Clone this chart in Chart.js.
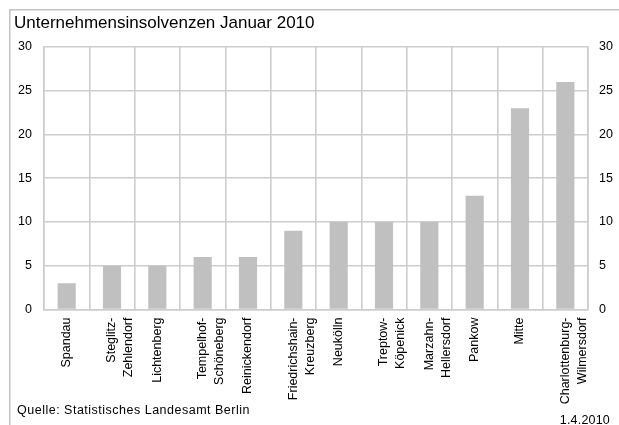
<!DOCTYPE html>
<html><head><meta charset="utf-8">
<script src="https://cdn.jsdelivr.net/npm/chart.js@4"></script>
<style>html,body{margin:0;padding:0;background:#fff}#wrap{width:619px;height:425px;position:relative}</style>
</head><body><div id="wrap"><canvas id="c" width="619" height="425"></canvas></div>
<script>
const titleText = 'Unternehmensinsolvenzen Januar 2010';
const sourceText = 'Quelle: Statistisches Landesamt Berlin';
const dateText = '1.4.2010';
const categories = [
  'Spandau', ['Steglitz-','Zehlendorf'], 'Lichtenberg', ['Tempelhof-','Schöneberg'],
  'Reinickendorf', ['Friedrichshain-','Kreuzberg'], 'Neukölln', ['Treptow-','Köpenick'],
  ['Marzahn-','Hellersdorf'], 'Pankow', 'Mitte', ['Charlottenburg-','Wilmersdorf']
];
const values = [3, 5, 5, 6, 6, 9, 10, 10, 10, 13, 23, 26];
const yMin = 0, yMax = 30, yStep = 5;

const FONT = "'Liberation Sans', Arial, sans-serif";
const frame = {
  id: 'frame',
  beforeDraw(chart) {
    const ctx = chart.ctx;
    ctx.save();
    ctx.strokeStyle = '#c4c4c4';
    ctx.lineWidth = 1.5;
    ctx.beginPath();
    ctx.moveTo(619, 9.75); ctx.lineTo(9.75, 9.75); ctx.lineTo(9.75, 425);
    ctx.stroke();
    ctx.restore();
  },
  afterDraw(chart) {
    const ctx = chart.ctx;
    ctx.save();
    ctx.fillStyle = '#000';
    ctx.font = '12.5px ' + FONT;
    ctx.textBaseline = 'alphabetic';
    ctx.textAlign = 'left';
    try { ctx.letterSpacing = '0.5px'; } catch (e) {}
    ctx.fillText(sourceText, 17, 414);
    ctx.textAlign = 'right';
    try { ctx.letterSpacing = '0.2px'; } catch (e) {}
    ctx.fillText(dateText, 610, 423.5);
    ctx.restore();
  }
};

new Chart(document.getElementById('c'), {
  type: 'bar',
  data: { labels: categories, datasets: [{ data: values, backgroundColor: '#c0c0c0', borderWidth: 0,
    categoryPercentage: 1, barPercentage: 0.4 }] },
  plugins: [frame],
  options: {
    responsive: false, animation: false, devicePixelRatio: 1,
    layout: { padding: { left: 14, right: 0, top: 0, bottom: 0 } },
    plugins: {
      legend: { display: false }, tooltip: { enabled: false },
      title: { display: true, text: titleText, align: 'start', color: '#000',
        font: { family: FONT, size: 17, weight: 'normal', lineHeight: 1.2 },
        padding: { top: 13.5, bottom: 13 } }
    },
    scales: {
      x: {
        grid: { display: true, offset: true, color: '#cdcdcd', lineWidth: 1.6, drawTicks: false },
        border: { display: true, color: '#cdcdcd', width: 1.6 },
        ticks: { color: '#000', font: { family: FONT, size: 12.5, lineHeight: 1.35 }, minRotation: 90, maxRotation: 90,
          autoSkip: false, padding: 8 },
        afterFit(s) { s.height = 425 - 309.5; }
      },
      y: {
        position: 'left', min: yMin, max: yMax,
        grid: { color: '#cdcdcd', lineWidth: 1.6, drawTicks: false },
        border: { display: true, color: '#cdcdcd', width: 1.6 },
        ticks: { stepSize: yStep, color: '#000', font: { family: FONT, size: 12.5 }, padding: 12 },
        afterFit(s) { s.width = 30; }
      },
      y2: {
        position: 'right', min: yMin, max: yMax,
        grid: { display: false, drawTicks: false },
        border: { display: true, color: '#cdcdcd', width: 1.6 },
        ticks: { stepSize: yStep, color: '#000', font: { family: FONT, size: 12.5 }, padding: 11 },
        afterFit(s) { s.width = 31; }
      }
    }
  }
});
</script></body></html>
